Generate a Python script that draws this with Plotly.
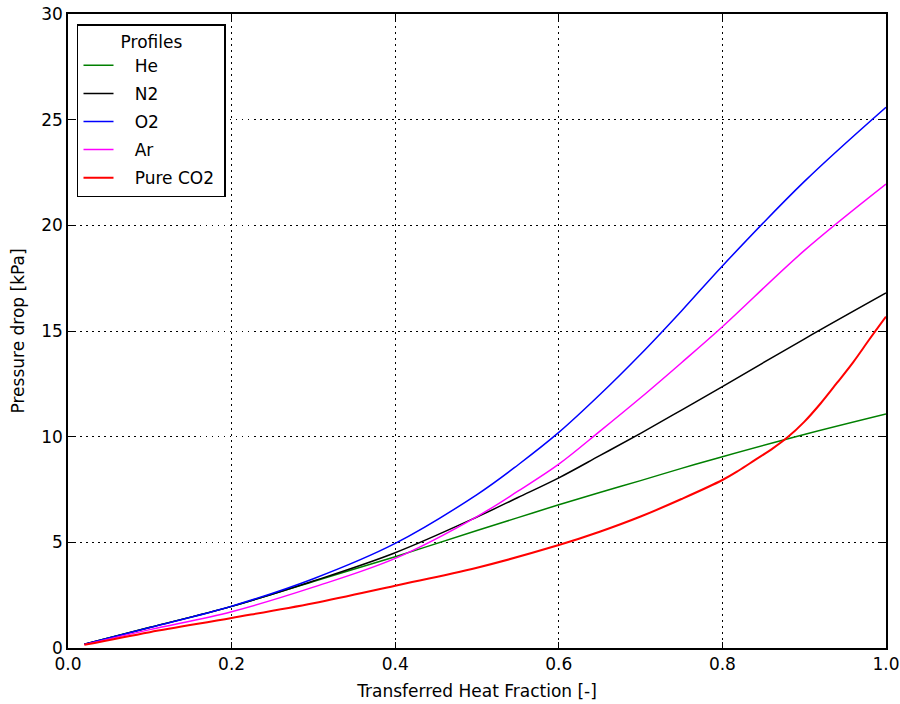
import plotly.graph_objects as go

x_main = [0.02, 0.1, 0.2, 0.3, 0.4, 0.5, 0.55, 0.6, 0.65, 0.7, 0.75, 0.8, 0.9, 1.0]
he = [0.18, 0.98, 1.97, 3.15, 4.32, 5.56, 6.17, 6.78, 7.36, 7.92, 8.5, 9.05, 10.1, 11.07]
n2 = [0.18, 0.97, 1.97, 3.17, 4.51, 6.2, 7.12, 8.05, 9.1, 10.16, 11.26, 12.37, 14.62, 16.8]
o2 = [0.18, 0.97, 1.98, 3.28, 4.95, 7.26, 8.66, 10.2, 11.98, 13.9, 15.95, 18.08, 22.07, 25.59]
ar = [0.16, 0.87, 1.72, 2.88, 4.24, 6.22, 7.42, 8.7, 10.25, 11.84, 13.5, 15.2, 18.8, 21.95]

x_co2 = [0.02, 0.1, 0.2, 0.3, 0.4, 0.5, 0.6, 0.65, 0.7, 0.75, 0.8, 0.82, 0.84, 0.86, 0.88, 0.9, 0.92, 0.94, 0.96, 0.98, 1.0]
co2 = [0.15, 0.75, 1.42, 2.12, 2.95, 3.8, 4.87, 5.5, 6.22, 7.05, 7.95, 8.4, 8.9, 9.4, 9.98, 10.7, 11.57, 12.54, 13.53, 14.62, 15.68]

fig = go.Figure()
series = [
    ("He", x_main, he, "#008000", 1.5),
    ("N2", x_main, n2, "#000000", 1.5),
    ("O2", x_main, o2, "#0000ff", 1.5),
    ("Ar", x_main, ar, "#ff00ff", 1.5),
    ("Pure CO2", x_co2, co2, "#ff0000", 2.0),
]
NB = "\u00a0\u00a0\u00a0"
for name, xs, ys, col, w in series:
    label = NB + name + ("\u00a0" if name == "Pure CO2" else "")
    fig.add_trace(go.Scatter(x=xs, y=ys, mode="lines", name=label, legendgroup=name,
                             line=dict(color=col, width=w, shape="spline", smoothing=1.0)))

axis_common = dict(
    showline=True, linecolor="black", linewidth=1.5, mirror="ticks",
    ticks="inside", ticklen=6, tickwidth=1, tickcolor="black",
    showgrid=True, gridcolor="black", gridwidth=1, griddash="1.5px,4.5px",
    zeroline=False, tickfont=dict(size=17, color="black"), automargin=False,
)
fig.update_xaxes(range=[0, 1.0], tickvals=[0, 0.2, 0.4, 0.6, 0.8, 1.0],
                 ticktext=["0.0", "0.2", "0.4", "0.6", "0.8", "1.0"],
                 title=dict(text="Transferred Heat Fraction [-]", font=dict(size=17, color="black"), standoff=12),
                 **axis_common)
fig.update_yaxes(range=[0, 30], tickvals=[0, 5, 10, 15, 20, 25, 30],
                 title=dict(text="Pressure drop [kPa]", font=dict(size=17, color="black"), standoff=12),
                 **axis_common)

fig.update_layout(
    width=900, height=704,
    margin=dict(l=68, r=14, t=14, b=56),
    paper_bgcolor="white", plot_bgcolor="white",
    font=dict(family="DejaVu Sans", size=17, color="black"),
    legend=dict(x=0.011, y=0.984, xanchor="left", yanchor="top",
                bgcolor="white", bordercolor="black", borderwidth=1.5,
                title=dict(text="Profiles", side="top center", font=dict(size=17)),
                font=dict(size=17), tracegroupgap=3, itemwidth=30),
    showlegend=True,
)

fig.write_html("out.html", config={"displayModeBar": False},
               post_script="document.body.style.margin='0';document.body.style.overflow='hidden';")
